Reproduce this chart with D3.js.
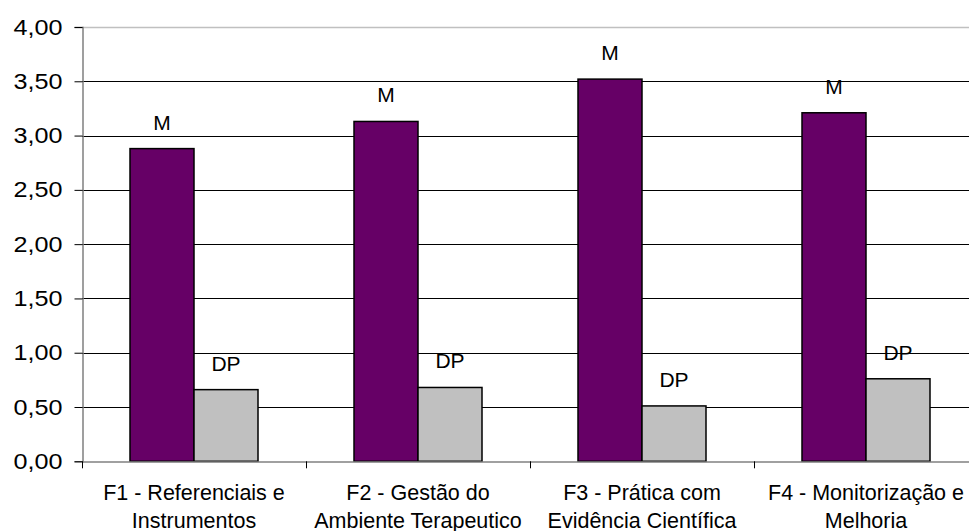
<!DOCTYPE html>
<html>
<head>
<meta charset="utf-8">
<script src="https://cdn.jsdelivr.net/npm/d3@7"></script>
<style>
  html, body { margin: 0; padding: 0; background: #fff; }
  svg { display: block; font-family: "Liberation Sans", Arial, sans-serif; }
</style>
</head>
<body>
<svg id="chart" width="969" height="531"></svg>
<script>
const categories = [
  ["F1 - Referenciais e", "Instrumentos"],
  ["F2 - Gestão do", "Ambiente Terapeutico"],
  ["F3 - Prática com", "Evidência Científica"],
  ["F4 - Monitorização e", "Melhoria"]
];
const seriesNames = ["M", "DP"];
const valuesM  = [2.88, 3.13, 3.52, 3.21];
const valuesDP = [0.66, 0.68, 0.51, 0.76];
const yTicks = [0, 0.5, 1, 1.5, 2, 2.5, 3, 3.5, 4];
const seriesColors = ["#660066", "#C0C0C0"];

(function () {
const svg = d3.select("#chart");
const pLeft = 82, pRight = 978, pTop = 27, pBottom = 461.3;

const x0 = d3.scaleBand().domain(d3.range(categories.length)).range([pLeft, pRight]).paddingInner(0).paddingOuter(0);
const x1 = d3.scaleBand().domain(seriesNames).range([48, 176]).padding(0);
const y = d3.scaleLinear().domain([0, 4]).range([pBottom, pTop]);

const fmt = v => d3.format(".2f")(v).replace(".", ",");

// gridlines
svg.append("g").selectAll("line")
  .data(yTicks.filter(t => t > 0 && t < 4))
  .join("line")
  .attr("x1", pLeft).attr("x2", pRight)
  .attr("y1", d => Math.round(y(d)) + 0.5).attr("y2", d => Math.round(y(d)) + 0.5)
  .attr("stroke", "#000").attr("stroke-width", 1);

// top border
svg.append("line")
  .attr("x1", pLeft).attr("x2", pRight)
  .attr("y1", Math.round(y(4)) + 0.5).attr("y2", Math.round(y(4)) + 0.5)
  .attr("stroke", "#c0c0c0").attr("stroke-width", 1.5);

// bars
const data = categories.map((c, i) => ({ i, vals: [valuesM[i], valuesDP[i]] }));
const groups = svg.append("g").selectAll("g")
  .data(data).join("g")
  .attr("transform", d => `translate(${x0(d.i)},0)`);

groups.selectAll("rect")
  .data(d => d.vals.map((v, k) => ({ k, v })))
  .join("rect")
  .attr("x", d => x1(seriesNames[d.k]))
  .attr("width", x1.bandwidth())
  .attr("y", d => y(d.v))
  .attr("height", d => y(0) - y(d.v))
  .attr("fill", d => seriesColors[d.k])
  .attr("stroke", "#000")
  .attr("stroke-width", 1.5);

groups.selectAll("text.lbl")
  .data(d => d.vals.map((v, k) => ({ k, v })))
  .join("text")
  .attr("class", "lbl")
  .attr("x", d => x1(seriesNames[d.k]) + x1.bandwidth() / 2)
  .attr("y", d => y(d.v) - 19)
  .attr("text-anchor", "middle")
  .attr("font-size", 21)
  .attr("fill", "#000")
  .text(d => seriesNames[d.k]);

// y axis
const yAxis = d3.axisLeft(y).tickValues(yTicks).tickFormat(fmt).tickSize(8).tickPadding(12);
const gy = svg.append("g").attr("transform", `translate(${pLeft + 0.5},0)`).call(yAxis);
gy.select(".domain").attr("stroke", "#808080").attr("stroke-width", 1.5);
gy.selectAll(".tick line").attr("stroke", "#000");
gy.selectAll(".tick text").attr("font-size", 22).attr("fill", "#000")
  .attr("font-family", "Liberation Sans, Arial, sans-serif")
  .attr("textLength", 49).attr("lengthAdjust", "spacingAndGlyphs");

// x axis
const xAxis = d3.axisBottom(x0).tickSize(0).tickFormat(() => "");
const gx = svg.append("g").attr("transform", `translate(0,${Math.round(pBottom) + 0.5})`).call(xAxis);
gx.select(".domain").attr("stroke", "#808080").attr("stroke-width", 1.5);

// category boundary ticks
svg.append("g").selectAll("line")
  .data(d3.range(categories.length + 1))
  .join("line")
  .attr("x1", i => Math.round(pLeft + i * x0.bandwidth()) + 0.5)
  .attr("x2", i => Math.round(pLeft + i * x0.bandwidth()) + 0.5)
  .attr("y1", pBottom).attr("y2", pBottom + 7)
  .attr("stroke", "#000").attr("stroke-width", 1);

// category labels
const lab = svg.append("g").selectAll("text")
  .data(categories.map((c, i) => ({ c, i })))
  .join("text")
  .attr("text-anchor", "middle")
  .attr("font-size", 21.5)
  .attr("fill", "#000")
  .attr("x", d => x0(d.i) + x0.bandwidth() / 2)
  .attr("y", 500);
lab.selectAll("tspan")
  .data(d => d.c.map((t, k) => ({ t, k, x: x0(d.i) + x0.bandwidth() / 2 })))
  .join("tspan")
  .attr("x", d => d.x)
  .attr("dy", d => d.k === 0 ? 0 : 28)
  .text(d => d.t);
})();
</script>
</body>
</html>
